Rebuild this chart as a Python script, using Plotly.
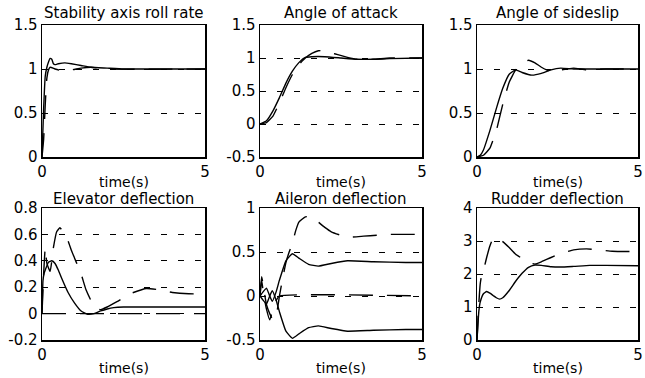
import plotly.graph_objects as go

# ---------------- data ----------------
titles = ["Stability axis roll rate", "Angle of attack", "Angle of sideslip",
          "Elevator deflection", "Aileron deflection", "Rudder deflection"]
x_label = "time(s)"
x_ticks = [0, 5]

y_ranges = [[0, 1.5], [-0.5, 1.5], [0, 1.5], [-0.2, 0.8], [-0.5, 1], [0, 4]]
y_ticks = [[0, 0.5, 1, 1.5], [-0.5, 0, 0.5, 1, 1.5], [0, 0.5, 1, 1.5],
           [-0.2, 0, 0.2, 0.4, 0.6, 0.8], [-0.5, 0, 0.5, 1], [0, 1, 2, 3, 4]]
y_ticktext = [["0", "0.5", "1", "1.5"], ["-0.5", "0", "0.5", "1", "1.5"], ["0", "0.5", "1", "1.5"],
              ["-0.2", "0", "0.2", "0.4", "0.6", "0.8"], ["-0.5", "0", "0.5", "1"], ["0", "1", "2", "3", "4"]]

# Stability axis roll rate
roll_t_solid = [0, 0.05, 0.1, 0.15, 0.2, 0.25, 0.3, 0.35, 0.4, 0.5, 0.7, 0.9, 1.2, 1.5, 2.0, 2.5, 3, 5]
roll_v_solid = [0, 0.55, 0.92, 1.02, 1.08, 1.12, 1.11, 1.06, 1.05, 1.06, 1.07, 1.06, 1.04, 1.02, 1.01, 1.0, 1.0, 1.0]
roll_t_dash = [0, 0.05, 0.1, 0.15, 0.2, 0.25, 0.4, 0.6, 0.9, 1.2, 1.5, 2, 5]
roll_v_dash = [0, 0.2, 0.6, 0.9, 0.99, 1.02, 1.0, 0.98, 0.99, 1.01, 1.02, 1.0, 1.0]

# Angle of attack
aoa_t_solid = [0, 0.2, 0.4, 0.6, 0.8, 1.0, 1.2, 1.4, 1.6, 2.0, 2.5, 3.0, 3.5, 4, 5]
aoa_v_solid = [0, 0.05, 0.2, 0.4, 0.62, 0.8, 0.93, 1.01, 1.02, 1.02, 1.0, 0.98, 0.98, 0.99, 1.0]
aoa_t_dash = [0, 0.2, 0.4, 0.6, 0.8, 1.0, 1.2, 1.4, 1.6, 1.8, 2.0, 2.2, 2.4, 2.7, 3.0, 3.5, 4, 5]
aoa_v_dash = [0, 0.02, 0.12, 0.32, 0.55, 0.75, 0.9, 1.0, 1.07, 1.11, 1.11, 1.08, 1.05, 1.01, 0.98, 0.98, 1.0, 1.0]

# Angle of sideslip
beta_t_solid = [0, 0.1, 0.2, 0.4, 0.6, 0.8, 1.0, 1.2, 1.4, 1.7, 2.0, 2.3, 2.6, 3.0, 3.5, 5]
beta_v_solid = [0, 0.02, 0.08, 0.3, 0.55, 0.78, 0.94, 0.99, 0.96, 0.93, 0.95, 0.99, 1.01, 1.0, 1.0, 1.0]
beta_t_dash = [0, 0.2, 0.4, 0.6, 0.8, 1.0, 1.2, 1.4, 1.6, 1.8, 2.0, 2.3, 2.6, 3.0, 3.4, 4, 5]
beta_v_dash = [0, 0.02, 0.1, 0.3, 0.6, 0.85, 0.99, 1.06, 1.1, 1.07, 1.02, 0.97, 0.99, 1.01, 0.99, 1.0, 1.0]

# Elevator deflection
elev_t_solid = [0, 0.03, 0.06, 0.1, 0.2, 0.3, 0.4, 0.5, 0.6, 0.8, 1.0, 1.2, 1.4, 1.6, 1.8, 2.0, 2.2, 2.5, 3, 5]
elev_v_solid = [0, 0.25, 0.3, 0.33, 0.39, 0.40, 0.38, 0.33, 0.27, 0.16, 0.08, 0.02, -0.005, 0.0, 0.02, 0.035, 0.045, 0.05, 0.05, 0.05]
elev_t_dash = [0, 0.05, 0.1, 0.15, 0.25, 0.35, 0.45, 0.55, 0.65, 0.8, 0.9, 1.0, 1.1, 1.2, 1.35, 1.5, 1.65,
               1.8, 2.0, 2.3, 2.7, 3.2, 3.6, 4.0, 4.5, 5]
elev_v_dash = [0, 0.3, 0.5, 0.38, 0.32, 0.5, 0.62, 0.65, 0.62, 0.55, 0.48, 0.42, 0.36, 0.3, 0.18, 0.1, 0.04,
               0.03, 0.05, 0.09, 0.15, 0.19, 0.18, 0.16, 0.15, 0.15]
elev_t_zero = [0, 5]
elev_v_zero = [0, 0]

# Aileron deflection
ail_t_solid = [0, 0.1, 0.2, 0.3, 0.38, 0.5, 0.6, 0.8, 1.0, 1.2, 1.5, 1.8, 2.2, 2.7, 3.5, 4.5, 5]
ail_v_solid_pos = [0, 0.05, 0.09, 0.0, -0.06, 0.05, 0.18, 0.4, 0.48, 0.43, 0.36, 0.34, 0.37, 0.4, 0.39, 0.38, 0.38]
ail_v_solid_neg = [0, -0.05, -0.09, 0.0, 0.06, -0.05, -0.18, -0.4, -0.48, -0.43, -0.36, -0.34, -0.37, -0.4, -0.39, -0.38, -0.38]
ail_t_dash = [0, 0.05, 0.1, 0.2, 0.3, 0.4, 0.5, 0.6, 0.7, 0.8, 0.9, 1.0, 1.1, 1.2, 1.4, 1.6, 1.8, 2.0, 2.2,
              2.5, 2.8, 3.2, 3.6, 4.0, 4.5, 5]
ail_v_dash = [0, 0.22, 0.12, -0.1, -0.2, -0.27, -0.22, 0.0, 0.2, 0.38, 0.5, 0.6, 0.74, 0.84, 0.9, 0.9, 0.84,
              0.78, 0.73, 0.69, 0.67, 0.68, 0.69, 0.7, 0.7, 0.7]
ail_t_zero = [0, 0.05, 0.1, 0.2, 0.3, 0.4, 0.5, 0.6, 5]
ail_v_zero = [0, 0.18, 0.05, -0.15, -0.27, -0.15, -0.05, 0, 0]

# Rudder deflection
rud_t_solid = [0, 0.03, 0.06, 0.1, 0.2, 0.3, 0.4, 0.5, 0.6, 0.7, 0.8, 1.0, 1.2, 1.4, 1.6, 1.8, 2.0, 2.3, 2.6,
               3.0, 3.5, 4.0, 5]
rud_v_solid = [0, 0.5, 0.9, 1.15, 1.4, 1.47, 1.42, 1.35, 1.28, 1.24, 1.28, 1.5, 1.78, 2.02, 2.2, 2.27, 2.26,
               2.22, 2.21, 2.23, 2.26, 2.26, 2.25]
rud_t_dash = [0, 0.05, 0.1, 0.15, 0.2, 0.25, 0.3, 0.4, 0.5, 0.6, 0.8, 1.0, 1.2, 1.4, 1.6, 1.8, 2.0, 2.3, 2.6,
              3.0, 3.4, 3.8, 4.2, 5]
rud_v_dash = [0, 1.0, 1.7, 2.0, 2.1, 2.3, 2.5, 2.85, 3.08, 3.1, 2.98, 2.8, 2.6, 2.47, 2.35, 2.3, 2.37, 2.5,
              2.62, 2.73, 2.76, 2.73, 2.69, 2.68]

panel_series = [
    [(roll_t_solid, roll_v_solid, "solid"), (roll_t_dash, roll_v_dash, "dash")],
    [(aoa_t_solid, aoa_v_solid, "solid"), (aoa_t_dash, aoa_v_dash, "dash")],
    [(beta_t_solid, beta_v_solid, "solid"), (beta_t_dash, beta_v_dash, "dash")],
    [(elev_t_solid, elev_v_solid, "solid"), (elev_t_dash, elev_v_dash, "dash"), (elev_t_zero, elev_v_zero, "dash")],
    [(ail_t_solid, ail_v_solid_pos, "solid"), (ail_t_solid, ail_v_solid_neg, "solid"),
     (ail_t_dash, ail_v_dash, "dash"), (ail_t_zero, ail_v_zero, "dash")],
    [(rud_t_solid, rud_v_solid, "solid"), (rud_t_dash, rud_v_dash, "dash")],
]

# ---------------- layout ----------------
W, H = 645, 378
col_px = [(42, 205), (260, 422), (477, 638)]
row_px = [(25, 157), (208, 340)]
title_y_px = [13, 199]
xlabel_y_px = [182, 368]
FONT = "DejaVu Sans"
FS = 15

fig = go.Figure()
layout = dict(
    width=W, height=H, margin=dict(l=0, r=0, t=0, b=0, autoexpand=False),
    paper_bgcolor="white", plot_bgcolor="white", showlegend=False,
    font=dict(family=FONT, size=FS, color="black"),
    hovermode=False,
)
annotations = []
for i in range(6):
    r, c = divmod(i, 3)
    xa = "xaxis" if i == 0 else f"xaxis{i+1}"
    ya = "yaxis" if i == 0 else f"yaxis{i+1}"
    xref = "x" if i == 0 else f"x{i+1}"
    yref = "y" if i == 0 else f"y{i+1}"
    x0, x1 = col_px[c]
    y0, y1 = row_px[r]
    layout[xa] = dict(
        domain=[x0 / W, x1 / W], anchor=yref, range=[0, 5],
        tickvals=x_ticks, ticktext=[str(v) for v in x_ticks],
        showgrid=False, zeroline=False, showline=True, mirror=True,
        linecolor="black", linewidth=1.5, ticks="", automargin=False,
        tickfont=dict(family=FONT, size=FS, color="black"),
        fixedrange=True,
    )
    layout[ya] = dict(
        domain=[1 - y1 / H, 1 - y0 / H], anchor=xref, range=y_ranges[i],
        tickvals=y_ticks[i], ticktext=y_ticktext[i],
        showgrid=True, gridcolor="black", gridwidth=1, griddash="6px,11px",
        zeroline=False, showline=True, mirror=True,
        linecolor="black", linewidth=1.5, ticks="", automargin=False,
        tickfont=dict(family=FONT, size=FS, color="black"),
        fixedrange=True,
    )
    annotations.append(dict(
        text=titles[i], xref="paper", yref="paper",
        x=(x0 + x1) / 2 / W, y=1 - title_y_px[r] / H,
        xanchor="center", yanchor="middle", showarrow=False,
        font=dict(family=FONT, size=FS, color="black"),
    ))
    annotations.append(dict(
        text=x_label, xref="paper", yref="paper",
        x=(x0 + x1) / 2 / W, y=1 - xlabel_y_px[r] / H,
        xanchor="center", yanchor="middle", showarrow=False,
        font=dict(family=FONT, size=14, color="black"),
    ))
    for t, v, style in panel_series[i]:
        fig.add_trace(go.Scatter(
            x=t, y=v, mode="lines", xaxis=xref, yaxis=yref,
            line=dict(color="black", width=1.4, shape="spline", smoothing=0.4,
                      dash="solid" if style == "solid" else "24px,14px"),
            hoverinfo="skip",
        ))

layout["annotations"] = annotations
fig.update_layout(**layout)
fig.write_html(
    "out.html",
    config={"displayModeBar": False, "staticPlot": True},
    post_script="document.body.style.margin='0';document.body.style.overflow='hidden';",
)
